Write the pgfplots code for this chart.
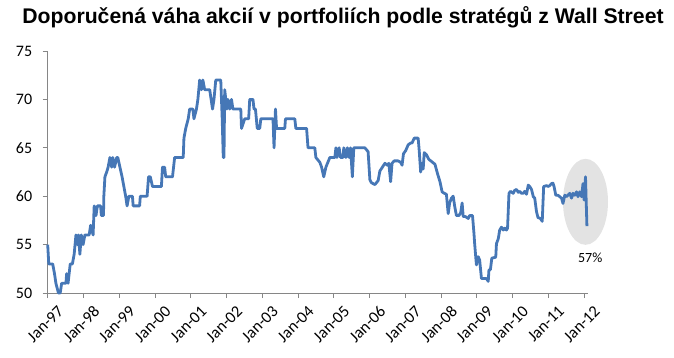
\documentclass[border=0pt]{standalone}
\usepackage{fontspec}
\setmainfont{Carlito}
\newfontfamily\titlefont{Liberation Sans}
\usepackage{pgfplots}
\pgfplotsset{compat=1.18}
\definecolor{serie}{HTML}{4677B6}
\definecolor{axgray}{HTML}{868686}
\definecolor{ell}{HTML}{E3E3E3}
\begin{document}
\begin{tikzpicture}
\begin{axis}[name=ax, scale only axis, width=540.3pt, height=242pt,
  xmin=1997, xmax=2012.11, ymin=50, ymax=75,
  axis x line*=bottom, axis y line*=left,
  axis line style={axgray, line width=0.8pt},
  tick style={axgray, line width=0.8pt},
  tick align=outside, major tick length=5pt,
  ytick={50,55,60,65,70,75},
  xtick={1997,1998,1999,2000,2001,2002,2003,2004,2005,2006,2007,2008,2009,2010,2011,2012},
  xticklabels={Jan-97,Jan-98,Jan-99,Jan-00,Jan-01,Jan-02,Jan-03,Jan-04,Jan-05,Jan-06,Jan-07,Jan-08,Jan-09,Jan-10,Jan-11,Jan-12},
  xticklabel style={rotate=45, anchor=north east, font=\fontsize{16.5}{17}\selectfont, inner sep=1pt, xshift=3pt, yshift=-10pt},
  yticklabel style={font=\fontsize{16}{17}\selectfont, xshift=-7pt},
  /pgf/number format/assume math mode=true,
  clip=false]
\fill[ell] (axis cs:2012.04,59.42) ellipse [x radius=22.5pt, y radius=43pt];
\addplot[serie, line width=2.8pt, line join=round, no markers] table {
x y
1997.00 55
1997.03 53
1997.14 53
1997.19 52
1997.23 51
1997.30 50
1997.35 50
1997.39 51
1997.51 51
1997.53 52
1997.57 51
1997.63 53
1997.69 53
1997.74 54
1997.79 56
1997.83 55
1997.86 56
1997.90 54
1997.94 56
1997.99 55
1998.04 56
1998.16 56
1998.20 57
1998.27 56
1998.30 59
1998.35 58
1998.39 59
1998.48 59
1998.50 58
1998.56 58
1998.57 60
1998.60 62
1998.65 62.5
1998.69 63
1998.74 64
1998.79 63
1998.82 64
1998.87 63
1998.93 64
1998.96 64
1999.02 63
1999.08 62
1999.13 61
1999.18 60
1999.22 59
1999.27 60
1999.37 60
1999.39 59
1999.57 59
1999.59 60
1999.78 60
1999.82 62
1999.87 62
1999.93 61
2000.18 61
2000.21 63
2000.27 63
2000.30 62
2000.49 62
2000.52 63
2000.55 64
2000.79 64
2000.81 66
2000.86 67
2000.93 68
2000.97 69
2001.06 69
2001.09 68
2001.16 69
2001.20 70
2001.25 72
2001.30 71
2001.34 72
2001.39 71
2001.53 71
2001.61 69
2001.65 70
2001.70 72
2001.84 72
2001.88 68
2001.91 64
2001.93 64
2001.95 71
2002.01 69
2002.04 70
2002.09 69
2002.14 70
2002.18 69
2002.40 69
2002.42 67
2002.51 68
2002.62 68
2002.65 70
2002.74 70
2002.77 69
2002.81 69
2002.86 67
2002.93 67
2002.96 68
2003.30 68
2003.33 65
2003.37 69
2003.40 67
2003.63 67
2003.65 68
2003.91 68
2003.94 67
2004.24 67
2004.28 65
2004.47 65
2004.50 64
2004.61 63.5
2004.66 63
2004.72 62
2004.78 63
2004.89 64
2005.03 64
2005.06 65
2005.09 64
2005.15 65
2005.19 64
2005.26 64
2005.28 65
2005.34 64
2005.38 65
2005.43 64
2005.47 65
2005.52 62
2005.56 65
2005.87 65
2005.96 64.6
2006.01 61.7
2006.05 61.4
2006.15 61.2
2006.24 61.6
2006.29 62.6
2006.36 63
2006.43 63.4
2006.50 63.2
2006.54 63.4
2006.59 61.5
2006.63 63.4
2006.69 63.65
2006.80 63.65
2006.87 63.5
2006.91 63.2
2006.95 64.4
2007.01 64.7
2007.08 65.3
2007.15 65.5
2007.19 65.5
2007.25 66
2007.31 66
2007.36 66
2007.39 64.7
2007.43 62.5
2007.47 63.4
2007.50 62.8
2007.53 64.5
2007.59 64.3
2007.66 63.8
2007.73 63.6
2007.83 63.3
2007.90 62.35
2007.97 61.5
2008.03 60.45
2008.09 60.3
2008.15 60.2
2008.20 58.2
2008.24 59.3
2008.29 59.8
2008.34 60
2008.38 59
2008.43 58
2008.50 58
2008.55 58.3
2008.59 59.3
2008.62 57.9
2008.68 57.9
2008.76 57.7
2008.80 58
2008.88 58
2008.92 56.2
2008.94 55.1
2008.97 53.75
2008.99 52.9
2009.04 53.75
2009.08 53.4
2009.13 51.5
2009.27 51.5
2009.32 51.2
2009.34 52.4
2009.38 52.4
2009.42 53.6
2009.53 53.7
2009.55 55.1
2009.60 55.6
2009.64 56.5
2009.69 56.8
2009.74 56.5
2009.78 56.7
2009.83 56.5
2009.86 56.7
2009.90 60.3
2009.94 60.5
2010.02 60.3
2010.06 60.6
2010.11 60.7
2010.16 60.4
2010.20 60.5
2010.25 60.3
2010.30 60.3
2010.34 60.5
2010.39 60.2
2010.44 61.15
2010.48 61
2010.53 60.7
2010.58 59.95
2010.62 59.8
2010.67 58.4
2010.71 57.8
2010.78 57.7
2010.83 57.4
2010.87 61.0
2010.95 61.1
2010.99 61.0
2011.04 61.1
2011.09 61.3
2011.13 61.35
2011.16 61.0
2011.21 60.1
2011.27 60.1
2011.32 59.95
2011.37 59.8
2011.41 59.25
2011.46 60.1
2011.51 59.95
2011.55 60.1
2011.60 60.3
2011.65 59.8
2011.69 60.3
2011.74 60.1
2011.79 60.45
2011.83 59.95
2011.88 60.45
2011.93 59.95
2011.97 61.3
2012.00 59.6
2012.04 62.0
2012.06 59.4
2012.08 56.9
};
\node[font=\fontsize{14}{15}\selectfont] at (axis cs:2012.17,53.64) {57\%};
\end{axis}
\node[font=\titlefont\bfseries\fontsize{21.2}{23}\selectfont, anchor=center] at ([shift={(295.3pt,276pt)}]ax.south west) {Doporučená váha akcií v portfoliích podle stratégů z Wall Street};
\pgfresetboundingbox
\path ([shift={(-47.7pt,-64pt)}]ax.south west) rectangle ++(674pt,357pt);
\end{tikzpicture}
\end{document}
